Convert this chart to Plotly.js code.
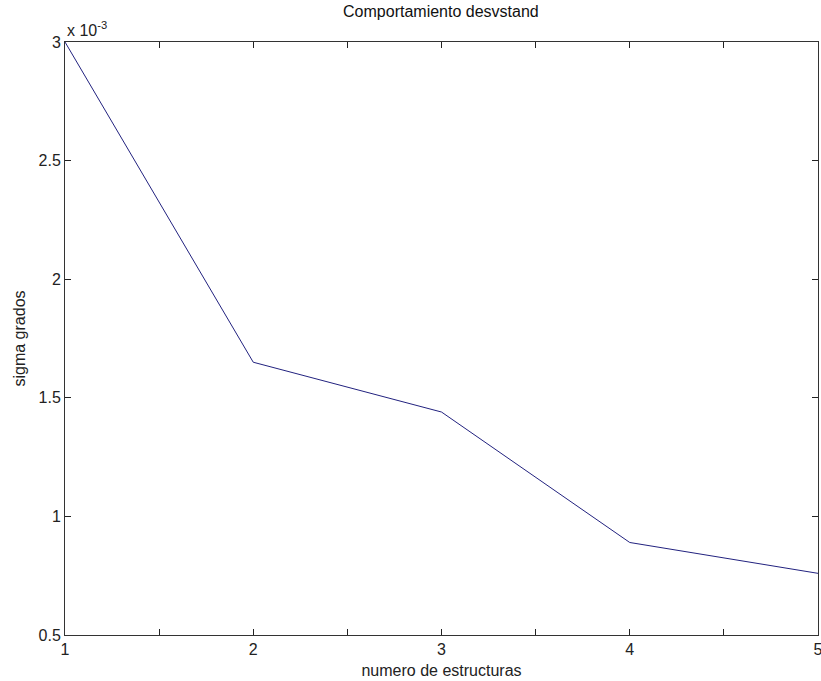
<!DOCTYPE html>
<html>
<head>
<meta charset="utf-8">
<script src="https://cdn.plot.ly/plotly-3.0.1.min.js"></script>
<style>html,body{margin:0;padding:0;background:#fff;}#chart{width:821px;height:681px;}</style>
</head>
<body>
<div id="chart"></div>
<script>
const estructuras = [1, 2, 3, 4, 5];
const sigmaGrados = [0.00300, 0.00165, 0.00144, 0.00089, 0.00076];
const xTickVals = [1, 1.5, 2, 2.5, 3, 3.5, 4, 4.5, 5];
const xTickText = ['1', ' ', '2', ' ', '3', ' ', '4', ' ', '5'];
const yTickVals = [0.0005, 0.001, 0.0015, 0.002, 0.0025, 0.003];
const yTickText = ['0.5', '1', '1.5', '2', '2.5', '3'];

const font = {family: 'Liberation Sans, Arial, sans-serif', size: 16, color: '#222'};

Plotly.newPlot('chart', [{
  x: estructuras,
  y: sigmaGrados,
  type: 'scatter',
  mode: 'lines',
  line: {color: '#22227f', width: 1},
  hoverinfo: 'none'
}], {
  width: 821, height: 681,
  margin: {l: 65, r: 3, t: 42, b: 46},
  paper_bgcolor: '#fff', plot_bgcolor: '#fff',
  font: font,
  showlegend: false,
  title: {text: 'Comportamiento desvstand', x: 0.537, xanchor: 'center', y: 0.992, yanchor: 'top', font: {family: font.family, size: 16, color: '#111'}},
  xaxis: {
    range: [1, 5], tickvals: xTickVals, ticktext: xTickText,
    ticks: 'inside', ticklen: 6, tickcolor: '#222', tickwidth: 1,
    showline: true, linecolor: '#333', linewidth: 1, mirror: 'ticks',
    showgrid: false, zeroline: false, tickfont: font, ticklabeloverflow: 'allow',
    title: {text: 'numero de estructuras', font: font, standoff: 7}
  },
  yaxis: {
    range: [0.0005, 0.003], tickvals: yTickVals, ticktext: yTickText,
    ticks: 'inside', ticklen: 6, tickcolor: '#222', tickwidth: 1,
    showline: true, linecolor: '#333', linewidth: 1, mirror: 'ticks',
    showgrid: false, zeroline: false, tickfont: font,
    title: {text: 'sigma grados', font: font, standoff: 8}
  },
  annotations: [{
    text: 'x 10<sup>-3</sup>', xref: 'paper', yref: 'paper', x: 0, y: 1,
    xanchor: 'left', yanchor: 'bottom', showarrow: false, font: font, yshift: 1
  }]
}, {staticPlot: true});
</script>
</body>
</html>
